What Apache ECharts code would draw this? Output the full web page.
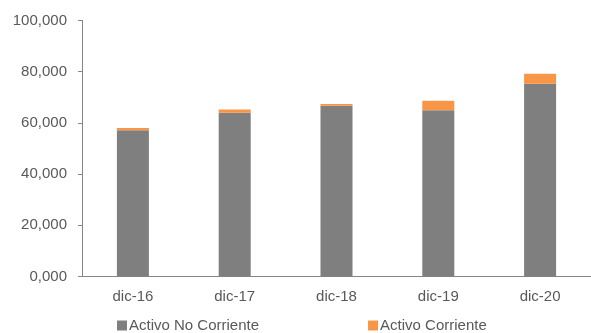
<!DOCTYPE html>
<html>
<head>
<meta charset="utf-8">
<script src="https://cdn.jsdelivr.net/npm/echarts@6/dist/echarts.min.js"></script>
<style>html,body{margin:0;padding:0;background:#fff;}#c{width:591px;height:333px;}</style>
</head>
<body>
<div id="c"></div>
<script>
var categories = ['dic-16', 'dic-17', 'dic-18', 'dic-19', 'dic-20'];
var activoNoCorriente = [57100, 64000, 66700, 64900, 75300];
var activoCorriente = [900, 1200, 700, 3800, 3900];
var yTicks = [0, 20000, 40000, 60000, 80000, 100000];

var txt = '#595959';
var axisCol = '#868686';
var font = '"Liberation Sans", Arial, sans-serif';

var chart = echarts.init(document.getElementById('c'));
chart.setOption({
  animation: false,
  textStyle: { fontFamily: font },
  grid: { left: 82, right: -6, top: 20.5, bottom: 56.5, containLabel: false },
  legend: {
    left: 117, top: 318, padding: 0, itemWidth: 10, itemHeight: 10, itemGap: 109, icon: 'rect',
    textStyle: { color: txt, fontSize: 15, fontFamily: font, padding: [0, 0, 0, -3] },
    data: ['Activo No Corriente', 'Activo Corriente']
  },
  xAxis: {
    type: 'category', data: categories,
    axisLine: { lineStyle: { color: axisCol, width: 1 } },
    axisTick: { alignWithLabel: true, length: 4, lineStyle: { color: axisCol } },
    axisLabel: { color: txt, fontSize: 15, margin: 13 }
  },
  yAxis: {
    type: 'value', min: yTicks[0], max: yTicks[yTicks.length - 1], interval: yTicks[1] - yTicks[0],
    splitLine: { show: false },
    axisLine: { show: true, lineStyle: { color: axisCol, width: 1 } },
    axisTick: { show: true, length: 4, lineStyle: { color: axisCol } },
    axisLabel: {
      color: txt, fontSize: 15, margin: 15,
      formatter: function (v) {
        var s = Math.floor(v / 1000);
        return (s === 0 ? '0' : String(s)) + ',000';
      }
    }
  },
  series: [
    { name: 'Activo No Corriente', type: 'bar', stack: 'a', data: activoNoCorriente, barWidth: 32,
      itemStyle: { color: '#7f7f7f' } },
    { name: 'Activo Corriente', type: 'bar', stack: 'a', data: activoCorriente, barWidth: 32,
      itemStyle: { color: '#f79646' } }
  ]
});
</script>
</body>
</html>
